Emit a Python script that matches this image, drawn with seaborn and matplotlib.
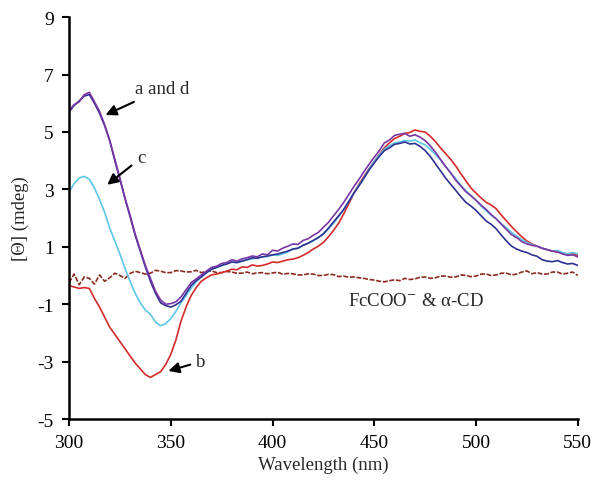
import numpy as np
import pandas as pd
import matplotlib
matplotlib.use("Agg")
import matplotlib.pyplot as plt
import seaborn as sns

wavelength = list(np.arange(300, 550.01, 2.5))

curve_a = [5.75, 5.95, 6.05, 6.30, 6.38, 6.05, 5.72, 5.25, 4.70, 4.05,
           3.40, 2.70, 2.10, 1.45, 0.90, 0.35, -0.10, -0.55, -0.85, -1.00,
           -0.98, -0.92, -0.75, -0.50, -0.25, -0.12, 0.02, 0.15, 0.28, 0.32,
           0.42, 0.45, 0.55, 0.50, 0.58, 0.62, 0.68, 0.65, 0.75, 0.72,
           0.88, 0.85, 0.95, 1.02, 1.10, 1.08, 1.22, 1.28, 1.40, 1.50,
           1.68, 1.85, 2.08, 2.30, 2.55, 2.82, 3.10, 3.35, 3.62, 3.88,
           4.12, 4.35, 4.62, 4.72, 4.88, 4.92, 4.95, 4.85, 4.90, 4.82,
           4.70, 4.52, 4.30, 4.05, 3.80, 3.58, 3.32, 3.12, 2.92, 2.78,
           2.62, 2.45, 2.30, 2.12, 1.97, 1.78, 1.60, 1.42, 1.32, 1.18,
           1.10, 1.05, 1.02, 0.95, 0.90, 0.85, 0.82, 0.75, 0.70, 0.72,
           0.65]

curve_d = [5.70, 5.92, 6.08, 6.25, 6.30, 6.00, 5.65, 5.22, 4.70, 4.00,
           3.35, 2.68, 2.05, 1.40, 0.85, 0.30, -0.20, -0.62, -0.95, -1.05,
           -1.10, -1.02, -0.90, -0.62, -0.35, -0.18, -0.05, 0.10, 0.22, 0.28,
           0.35, 0.40, 0.47, 0.45, 0.50, 0.55, 0.62, 0.60, 0.65, 0.68,
           0.72, 0.75, 0.80, 0.85, 0.92, 0.95, 1.05, 1.12, 1.22, 1.32,
           1.45, 1.65, 1.87, 2.08, 2.30, 2.58, 2.87, 3.12, 3.40, 3.68,
           3.92, 4.15, 4.35, 4.45, 4.57, 4.60, 4.65, 4.58, 4.60, 4.50,
           4.35, 4.15, 3.90, 3.65, 3.40, 3.18, 2.97, 2.75, 2.55, 2.42,
           2.27, 2.08, 1.90, 1.78, 1.62, 1.40, 1.20, 1.02, 0.92, 0.85,
           0.80, 0.72, 0.67, 0.55, 0.50, 0.48, 0.52, 0.45, 0.40, 0.42,
           0.35]

curve_c = [2.90, 3.20, 3.40, 3.45, 3.35, 3.05, 2.65, 2.20, 1.65, 1.20,
           0.75, 0.25, -0.20, -0.62, -0.95, -1.20, -1.35, -1.62, -1.75, -1.68,
           -1.50, -1.25, -0.95, -0.70, -0.45, -0.22, -0.05, 0.08, 0.22, 0.28,
           0.35, 0.42, 0.47, 0.45, 0.50, 0.55, 0.57, 0.62, 0.65, 0.66,
           0.72, 0.70, 0.75, 0.82, 0.92, 0.95, 1.05, 1.12, 1.22, 1.32,
           1.45, 1.62, 1.82, 2.05, 2.30, 2.58, 2.87, 3.15, 3.40, 3.70,
           3.97, 4.20, 4.40, 4.52, 4.62, 4.65, 4.70, 4.68, 4.72, 4.62,
           4.55, 4.40, 4.22, 4.02, 3.80, 3.58, 3.37, 3.15, 2.95, 2.78,
           2.62, 2.42, 2.25, 2.10, 1.97, 1.80, 1.65, 1.50, 1.37, 1.25,
           1.15, 1.08, 1.02, 0.95, 0.90, 0.85, 0.87, 0.80, 0.75, 0.80,
           0.75]

curve_b = [-0.35, -0.40, -0.45, -0.42, -0.45, -0.80, -1.10, -1.45, -1.80, -2.05,
           -2.30, -2.55, -2.80, -3.05, -3.25, -3.45, -3.55, -3.45, -3.35, -3.10,
           -2.75, -2.25, -1.60, -1.10, -0.70, -0.42, -0.20, -0.08, 0.02, 0.05,
           0.10, 0.15, 0.22, 0.20, 0.30, 0.28, 0.37, 0.33, 0.35, 0.40,
           0.47, 0.45, 0.50, 0.55, 0.57, 0.62, 0.70, 0.80, 0.92, 1.02,
           1.15, 1.35, 1.57, 1.82, 2.15, 2.50, 2.87, 3.18, 3.45, 3.72,
           3.97, 4.22, 4.45, 4.62, 4.77, 4.85, 4.95, 4.98, 5.07, 5.02,
           5.00, 4.85, 4.67, 4.45, 4.25, 4.05, 3.82, 3.55, 3.30, 3.05,
           2.87, 2.70, 2.55, 2.45, 2.32, 2.10, 1.90, 1.70, 1.52, 1.35,
           1.20, 1.10, 1.02, 0.95, 0.90, 0.85, 0.82, 0.78, 0.75, 0.78,
           0.70]

curve_fc = [-0.25, 0.05, -0.32, -0.05, -0.10, -0.30, 0.02, -0.20, -0.08, 0.08,
            0.00, -0.10, 0.07, 0.15, 0.10, 0.05, 0.08, 0.18, 0.15, 0.10,
            0.10, 0.17, 0.16, 0.12, 0.13, 0.18, 0.10, 0.14, 0.16, 0.10,
            0.10, 0.14, 0.12, 0.08, 0.08, 0.12, 0.06, 0.09, 0.10, 0.06,
            0.09, 0.11, 0.05, 0.07, 0.06, 0.02, 0.02, 0.06, 0.05, 0.00,
            0.00, 0.04, 0.03, -0.04, -0.02, -0.06, -0.05, -0.08, -0.10, -0.14,
            -0.16, -0.20, -0.22, -0.18, -0.15, -0.18, -0.10, -0.14, -0.12, -0.06,
            -0.05, -0.10, -0.08, -0.02, -0.02, -0.06, -0.05, 0.02, 0.00, -0.04,
            -0.02, 0.05, 0.05, 0.00, 0.02, 0.08, 0.08, 0.02, 0.05, 0.12,
            0.16, 0.06, 0.10, 0.05, 0.05, 0.12, 0.12, 0.05, 0.08, 0.12,
            0.00]

series_names = ["a", "d", "c", "b", "FcCOO- & a-CD"]
series_values = [curve_a, curve_d, curve_c, curve_b, curve_fc]
series_colors = ["#7A35A5", "#2E3192", "#5CC6E4", "#D42A2A", "#8B2A1E"]

frames = []
for name, vals in zip(series_names, series_values):
    frames.append(pd.DataFrame({"wl": wavelength, "theta": vals, "series": name}))
df = pd.concat(frames, ignore_index=True)

sns.set_theme(style="ticks")
plt.rcParams["font.family"] = ["Liberation Serif", "DejaVu Serif"]
plt.rcParams["mathtext.fontset"] = "stix"
plt.rcParams["axes.unicode_minus"] = False

fig = plt.figure(figsize=(5.95, 4.89), dpi=100)
ax = fig.add_axes([0.116, 0.141, 0.855, 0.822])

palette = dict(zip(series_names, series_colors))
for name in ["FcCOO- & a-CD", "b", "c", "d", "a"]:
    sub = df[df["series"] == name]
    sns.lineplot(data=sub, x="wl", y="theta", color=palette[name], ax=ax,
                 linewidth=1.2, sort=False, legend=False,
                 linestyle=(0, (3, 1)) if name.startswith("Fc") else "-")

ax.set_xlim(300, 550)
ax.set_ylim(-5, 9)
ax.set_xticks([300, 350, 400, 450, 500, 550])
ax.set_yticks([-5, -3, -1, 1, 3, 5, 7, 9])
ax.tick_params(axis="both", direction="out", length=5, width=1.5,
               labelsize=14, colors="black", pad=6)
for s in ["left", "bottom"]:
    ax.spines[s].set_linewidth(1.8)
    ax.spines[s].set_color("black")
sns.despine(ax=ax)
ax.set_xlabel("Wavelength (nm)", fontsize=13.5, labelpad=3)
ax.set_ylabel("[\u0398] (mdeg)", fontsize=13.5, labelpad=6)

arrowprops = dict(arrowstyle="-|>", color="black", lw=1.5, mutation_scale=16)
ax.annotate("a and d", xy=(316.7, 5.55), xytext=(332.4, 6.2),
            fontsize=13.5, ha="left", va="bottom", arrowprops=arrowprops)
ax.annotate("c", xy=(317.7, 3.1), xytext=(333.4, 3.8),
            fontsize=13.5, ha="left", va="bottom", arrowprops=arrowprops)
ax.annotate("b", xy=(347.5, -3.35), xytext=(362.5, -3.0),
            fontsize=13.5, ha="left", va="center", arrowprops=arrowprops)
ax.text(437.0, -0.87, "FcCOO$^{-}$ & \u03b1-CD", fontsize=13.5,
        ha="left", va="center")

fig.savefig("out.png", dpi=100)
